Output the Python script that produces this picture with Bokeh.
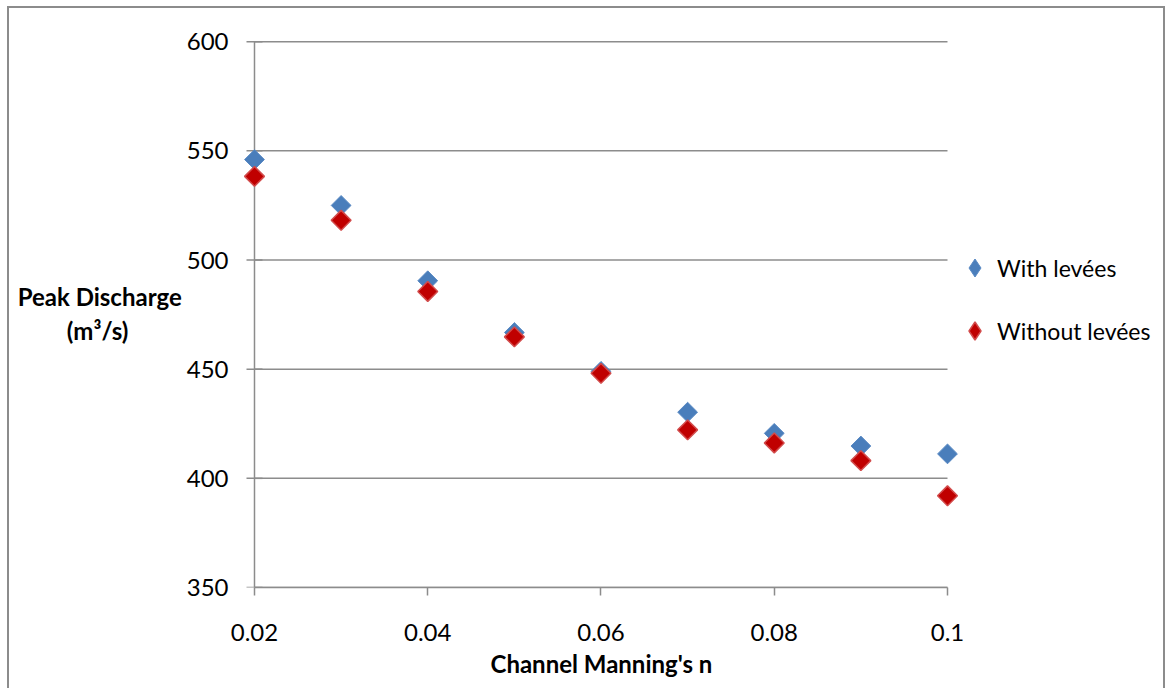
import math
from bokeh.plotting import figure
from bokeh.models import FixedTicker, Legend, LegendItem, Range1d, Title
from bokeh.embed import file_html
from bokeh.resources import INLINE

manning_n = [0.02, 0.03, 0.04, 0.05, 0.06, 0.07, 0.08, 0.09, 0.10]
with_levees = [546, 525, 490.5, 466.8, 449, 430.3, 420.6, 414.8, 411.2]
without_levees = [538.3, 518.2, 485.6, 464.8, 448.1, 422.2, 416.2, 408.1, 392.0]
x_ticks = [0.02, 0.04, 0.06, 0.08, 0.10]
x_tick_labels = {0.02: "0.02", 0.04: "0.04", 0.06: "0.06", 0.08: "0.08", 0.1: "0.1"}
y_ticks = [350, 400, 450, 500, 550, 600]

FONT = "Lato"
GRID = "#8c8c8c"
BLUE, BLUE_EDGE = "#4a7ebb", "#5a8ac4"
RED, RED_EDGE = "#c00000", "#d24b4b"

x0, x1 = x_ticks[0], x_ticks[-1]
y0, y1 = y_ticks[0], y_ticks[-1]

# frame runs on to the right edge so the legend can sit inside it
p = figure(frame_width=920, frame_height=548, output_backend="svg", toolbar_location=None,
           x_range=Range1d(0.018615, 0.12482), y_range=Range1d(350, 601),
           min_border_left=235, min_border_right=3, min_border_top=33, min_border_bottom=101)
p.margin = (6, 0, 0, 7)
p.styles = {"box-shadow": "inset 2px 2px 0 #8c8c8c, inset -2px 0 0 #8c8c8c"}
p.outline_line_color = None
p.background_fill_color = None
p.border_fill_color = None

p.xgrid.visible = False
p.ygrid.visible = False
# horizontal gridlines between first and last x tick
p.segment(x0=[x0] * len(y_ticks), y0=y_ticks, x1=[x1] * len(y_ticks), y1=y_ticks,
          line_color=GRID, line_width=1.5)
# vertical axis line at the first x tick, with its tick marks
p.segment(x0=[x0], y0=[y0], x1=[x0], y1=[y1], line_color=GRID, line_width=1.5)
p.scatter([x0] * len(y_ticks), y_ticks, marker="dash", size=16, line_color=GRID, line_width=1.5)

p.xaxis.ticker = FixedTicker(ticks=x_ticks)
p.xaxis.major_label_overrides = x_tick_labels
p.xaxis.bounds = (x0, x1)
p.yaxis.ticker = FixedTicker(ticks=y_ticks)
for ax in (p.xaxis, p.yaxis):
    ax.axis_line_color = GRID
    ax.axis_line_width = 1.5
    ax.major_tick_line_color = GRID
    ax.major_tick_line_width = 1.5
    ax.major_tick_in = 0
    ax.major_tick_out = 8
    ax.minor_tick_line_color = None
    ax.major_label_text_font = FONT
    ax.major_label_text_font_size = "24px"
    ax.major_label_text_color = "black"
    ax.axis_label_text_font = FONT
    ax.axis_label_text_font_style = "bold"
    ax.axis_label_text_font_size = "24px"
    ax.axis_label_text_color = "black"

p.yaxis.axis_line_color = None
p.yaxis.major_tick_line_color = None
p.yaxis.major_tick_out = 0

p.xaxis.major_label_standoff = 28
p.yaxis.major_label_standoff = 14
p.yaxis.axis_label = "Peak Discharge\n(m\u00b3/s)\u2007\u2007\u2007\u00a0\u00a0"
p.yaxis.axis_label_orientation = "horizontal"
p.yaxis.axis_label_standoff = 2

# x-axis title, centred under the data area (not the whole frame)
p.add_layout(Title(text="Channel Manning's n", align="left", offset=248, standoff=7,
                   text_font=FONT, text_font_size="24px", text_font_style="bold",
                   text_color="black"), "below")

ang = math.pi / 4
r1 = p.scatter(manning_n, with_levees, marker="square", size=14, angle=ang,
               fill_color=BLUE, line_color=BLUE_EDGE, line_width=1)
r2 = p.scatter(manning_n, without_levees, marker="square", size=14, angle=ang,
               fill_color=RED, line_color=RED_EDGE, line_width=1.5)
# legend swatches (same data, hidden; used only to draw diamond keys)
k1 = p.scatter(manning_n, with_levees, marker="diamond", fill_color=BLUE,
               line_color=BLUE_EDGE, line_width=1, visible=False)
k2 = p.scatter(manning_n, without_levees, marker="diamond", fill_color=RED,
               line_color=RED_EDGE, line_width=1.5, visible=False)

legend = Legend(items=[LegendItem(label="With lev\u00e9es", renderers=[k1]),
                       LegendItem(label="Without lev\u00e9es", renderers=[k2])],
                location=(710, 234), padding=0, margin=0, spacing=18,
                glyph_width=45, glyph_height=45, label_height=45, label_standoff=0,
                border_line_color=None, background_fill_alpha=0,
                inactive_fill_alpha=0,
                label_text_font=FONT, label_text_font_size="23px", label_text_color="black")
p.add_layout(legend, "center")

open("out.html", "w").write(file_html(p, INLINE))
